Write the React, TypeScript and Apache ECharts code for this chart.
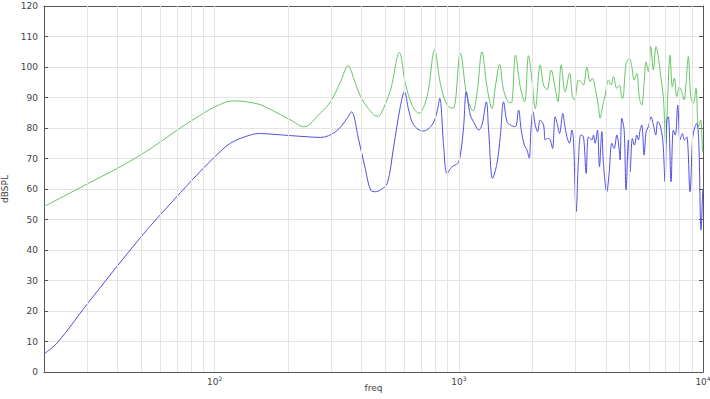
import React, { useEffect, useRef } from "react";
import * as echarts from "echarts";

const greenFreq = [
  20, 30.1, 40, 49.8, 60.1, 70.4, 82.3, 100, 120, 150, 169, 205, 232, 271, 298, 327, 352, 372, 396, 425, 463,
  477, 525, 571, 604, 644, 685, 741, 796, 840, 895, 947, 1014, 1080, 1143, 1187, 1244, 1304, 1367, 1411, 1469,
  1525, 1614, 1651, 1707, 1784, 1858, 1930, 1993, 2056, 2154, 2223, 2295, 2389, 2481, 2545, 2625, 2726, 2839,
  2920, 2976, 3090, 3161, 3239, 3344, 3450, 3526, 3617, 3731, 3791, 3852, 3974, 4099, 4205, 4297, 4436, 4546,
  4650, 4694, 4842, 4996, 5110, 5222, 5356, 5490, 5615, 5738, 5847, 5975, 6111, 6262, 6424, 6564, 6714, 6880,
  7037, 7171, 7328, 7489, 7631, 7807, 8000, 8183, 8362, 8521, 8708, 8907, 9127, 9364, 9570, 9787, 9970, 10000,
];
const greenDb = [
  54.2, 61.7, 66.8, 71.2, 75.5, 79.4, 82.9, 86.9, 88.9, 87.9, 86.1, 82.6, 80.4, 84.9, 88.6, 95, 100.4, 96, 90.3,
  86.5, 83.9, 84.3, 92.5, 104.8, 94.6, 87.5, 84.8, 90.3, 105.6, 94.6, 87.5, 86.4, 104.5, 90.3, 85.6, 91.4, 105,
  93.5, 86.4, 93.5, 100.9, 92.5, 88.3, 88.6, 103.9, 93.5, 88.6, 103.7, 95.7, 86.4, 100.7, 94.1, 92.5, 99, 93,
  88.6, 100.7, 91.9, 97.9, 90.3, 89.2, 95.7, 95.2, 94.1, 99.9, 95.2, 96.3, 93, 87, 83.2, 85.9, 90.8, 95.7, 94.1,
  96.8, 93, 94, 90, 89.7, 101.2, 102.8, 100.1, 95.7, 97.9, 89.7, 87.5, 94.6, 101.7, 98.5, 106.7, 99, 106.7, 103.4,
  96.8, 90.3, 74.4, 90.3, 103.9, 93.5, 96.3, 90.3, 93.5, 91.9, 89.2, 94.6, 103.4, 90.3, 88.1, 93, 80.4, 82.6,
  72.2, 73,
];
const blueFreq = [
  20, 22.8, 30.2, 49.8, 68, 87.6, 100, 116, 140, 154, 169, 205, 232, 271, 313, 349, 363, 389,
  415, 435, 456, 477, 509, 541, 576, 599, 623, 653, 714, 777, 814, 835, 867, 895, 938, 989, 1014, 1046, 1073,
  1114, 1168, 1205, 1244, 1296, 1324, 1375, 1433, 1478, 1525, 1574, 1624, 1702, 1756, 1801, 1853, 1901, 1942,
  1974, 2012, 2056, 2101, 2154, 2223, 2259, 2308, 2367, 2419, 2481, 2536, 2584, 2668, 2708, 2770, 2839, 2904,
  2948, 3024, 3090, 3161, 3239, 3323, 3396, 3507, 3559, 3617, 3696, 3766, 3852, 3910, 4037, 4126, 4233, 4325,
  4436, 4546, 4576, 4650, 4753, 4842, 4949, 5028, 5138, 5236, 5356, 5438, 5525, 5615, 5738, 5847, 5975, 6128,
  6262, 6405, 6527, 6670, 6842, 6992, 7104, 7213, 7398, 7560, 7703, 7881, 8054, 8230, 8385, 8577, 8848, 9077,
  9276, 9425, 9604, 9813, 9970,
];
const blueDb = [
  5.9, 9.8, 22.5, 44.2, 56.4, 65.9, 70.5, 75, 77.7, 78.2, 78, 77.5, 77.2, 76.9, 78.8, 83.2,
  85.3, 76.1, 66.2, 59.7, 59.1, 59.7, 61.8, 73.9, 87, 91.9, 85.9, 81, 79, 81, 85.3, 89.7, 73.9, 65.1, 67.3, 68.4,
  71, 80.4, 91.9, 84.3, 81, 79.3, 81, 88.6, 79.3, 63.5, 68.4, 77.1, 88.6, 82.1, 81, 80.4, 85.9, 79.3, 74.4, 72.8,
  70.1, 79.3, 85.3, 81, 78.8, 82.6, 81, 76.1, 76.6, 76.1, 73.3, 83.7, 81, 78.2, 84.8, 81.5, 77.1, 75, 79.3, 76.1,
  52.6, 69.5, 77.7, 77.1, 65.1, 77.1, 76.1, 77.7, 75, 79.3, 67.3, 78.8, 68.4, 59.1, 65.1, 75, 73.3, 77.7, 72.2,
  69.5, 83.2, 79.3, 59.7, 76.1, 65.7, 76.6, 74.4, 77.7, 76.1, 79.3, 81, 71.1, 78.8, 80.4, 83.7, 81, 77.7, 82.1,
  81, 76.1, 62.4, 82.6, 83.7, 62.4, 79.3, 77.7, 87.5, 76.1, 78.2, 76.1, 77.1, 59.1, 77.1, 80.4, 81.5, 76.1, 46.6,
  59.7,
];

const gridFreqs = [
  20, 30, 40, 50, 60, 70, 80, 90, 100, 200, 300, 400, 500, 600, 700, 800, 900, 1000, 2000, 3000, 4000, 5000,
  6000, 7000, 8000, 9000, 10000,
];
const decadeLabels = [100, 1000, 10000];

const X_MIN = 20;
const X_MAX = 10000;

export default function App() {
  const ref = useRef<HTMLDivElement>(null);
  useEffect(() => {
    const chart = echarts.init(ref.current!, null, { renderer: "svg" });
    const axisColor = "#555";
    const textColor = "#444";
    const gridColor = "#e4e4e4";
    const font = "DejaVu Sans";
    const supFormatter = (v: number) => `{a|10}{b|${Math.round(Math.log10(v))}}`;
    const innerLines = gridFreqs.filter((f) => f > X_MIN && f < X_MAX);
    chart.setOption({
      animation: false,
      backgroundColor: "#fff",
      grid: { left: 44, right: 7, top: 6, bottom: 27, containLabel: false, outerBoundsMode: "none" },
      xAxis: [
        {
          type: "log",
          logBase: 10,
          min: X_MIN,
          max: X_MAX,
          position: "bottom",
          name: "freq",
          nameLocation: "middle",
          nameGap: 11,
          nameMoveOverlap: false,
          nameTextStyle: { fontSize: 9, color: textColor, fontFamily: font, verticalAlign: "top" },
          axisLine: { show: true, onZero: false, lineStyle: { color: axisColor, width: 1 } },
          axisTick: { show: true, inside: true, length: 4, customValues: gridFreqs, lineStyle: { color: axisColor } },
          axisLabel: {
            customValues: decadeLabels,
            formatter: supFormatter,
            margin: 3,
            color: textColor,
            fontFamily: font,
            rich: {
              a: { fontSize: 9, color: textColor, fontFamily: font, verticalAlign: "bottom", lineHeight: 11 },
              b: { fontSize: 6, color: textColor, fontFamily: font, verticalAlign: "top", lineHeight: 11, padding: [0, 0, 4, 0] },
            },
          },
          splitLine: { show: false },
        },
        {
          type: "log",
          logBase: 10,
          min: X_MIN,
          max: X_MAX,
          position: "top",
          axisLine: { show: true, onZero: false, lineStyle: { color: axisColor, width: 1 } },
          axisTick: { show: true, inside: true, length: 4, customValues: gridFreqs, lineStyle: { color: axisColor } },
          axisLabel: { show: false },
          splitLine: { show: false },
        },
      ],
      yAxis: [
        {
          type: "value",
          min: 0,
          max: 120,
          interval: 10,
          position: "left",
          name: "dBSPL",
          nameLocation: "middle",
          nameGap: 32,
          nameRotate: 90,
          nameTextStyle: { fontSize: 9, color: textColor, fontFamily: font },
          axisLine: { show: true, lineStyle: { color: axisColor, width: 1 } },
          axisTick: { show: true, inside: true, length: 4, lineStyle: { color: axisColor } },
          axisLabel: { fontSize: 9, color: textColor, fontFamily: font, margin: 6 },
          splitLine: { show: true, lineStyle: { color: gridColor, width: 1 } },
        },
        {
          type: "value",
          min: 0,
          max: 120,
          interval: 10,
          position: "right",
          axisLine: { show: true, lineStyle: { color: axisColor, width: 1 } },
          axisTick: { show: true, inside: true, length: 4, lineStyle: { color: axisColor } },
          axisLabel: { show: false },
          splitLine: { show: false },
        },
      ],
      series: [
        {
          type: "line",
          name: "grid",
          data: [],
          z: 1,
          silent: true,
          markLine: {
            silent: true,
            symbol: ["none", "none"],
            label: { show: false },
            lineStyle: { color: gridColor, type: "solid", width: 1 },
            emphasis: { disabled: true },
            data: innerLines.map((f) => ({ xAxis: f })),
          },
        },
        {
          type: "line",
          name: "green",
          data: greenFreq.map((f, i) => [f, greenDb[i]]),
          showSymbol: false,
          symbol: "none",
          smooth: 0.35,
          z: 3,
          lineStyle: { color: "#66c466", width: 1 },
          itemStyle: { color: "#66c466" },
        },
        {
          type: "line",
          name: "blue",
          data: blueFreq.map((f, i) => [f, blueDb[i]]),
          showSymbol: false,
          symbol: "none",
          smooth: 0.35,
          z: 4,
          lineStyle: { color: "#4f4fe6", width: 1 },
          itemStyle: { color: "#4f4fe6" },
        },
      ],
    });
    return () => chart.dispose();
  }, []);
  return <div ref={ref} style={{ position: "fixed", left: 0, top: 0, width: 710, height: 399 }} />;
}
